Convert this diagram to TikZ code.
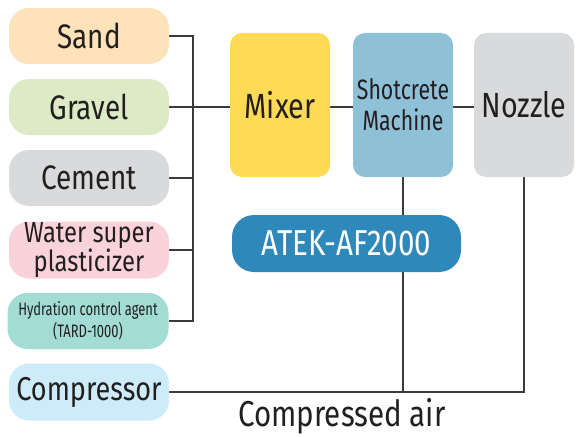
\documentclass[tikz,border=0pt]{standalone}
\usepackage{fontspec}
\setmainfont{Fira Sans}[Scale=1]
\newfontfamily\condf{Fira Sans}[FakeStretch=0.82]
\newfontfamily\narrf{Fira Sans}[FakeStretch=0.76]
\newfontfamily\narrerf{Fira Sans}[FakeStretch=0.72]
\usetikzlibrary{backgrounds}
\definecolor{csand}{HTML}{FDE2BA}
\definecolor{cgravel}{HTML}{DCEBC6}
\definecolor{ccement}{HTML}{D9DADC}
\definecolor{cwater}{HTML}{FAD3DA}
\definecolor{chyd}{HTML}{A2DCD4}
\definecolor{ccomp}{HTML}{CDEBF9}
\definecolor{cmixer}{HTML}{FFDA55}
\definecolor{cshot}{HTML}{8EC0D7}
\definecolor{catek}{HTML}{2E88BA}
\definecolor{cline}{HTML}{3A3A3A}
\definecolor{ctext}{HTML}{231F20}
\tikzset{
  srcbox/.style={rounded corners=20pt, minimum width=160pt, minimum height=56pt, inner sep=0pt, text=ctext, align=center, font=\condf\fontsize{34}{36}\selectfont},
  procbox/.style={rounded corners=12pt, minimum width=100pt, minimum height=144pt, inner sep=0pt, text=ctext, align=center, font=\condf\fontsize{35}{36}\selectfont},
  link/.style={draw=cline, line width=1.3pt}
}
\begin{document}
\begin{tikzpicture}[x=1pt,y=-1pt]
\useasboundingbox (0,0) rectangle (577,436);
\node[srcbox, fill=csand] (sand) at (89,36) {Sand};
\node[srcbox, fill=cgravel] (gravel) at (89,107) {Gravel};
\node[srcbox, fill=ccement] (cement) at (89,178) {Cement};
\node[srcbox, fill=cwater, minimum height=57pt, font=\condf\fontsize{29}{22}\selectfont] (water) at (89,250) {Water super\\plasticizer};
\node[srcbox, fill=chyd, minimum width=161pt, font=\narrerf\fontsize{18}{22}\selectfont] (hyd) at (88,321) {Hydration control agent\\(TARD-1000)};
\node[srcbox, fill=ccomp, minimum height=57pt, font=\condf\fontsize{33}{36}\selectfont] (comp) at (89,392) {Compressor};
\node[procbox, fill=cmixer] (mixer) at (280,105) {Mixer};
\node[procbox, fill=cshot, font=\narrf\fontsize{28}{31}\selectfont] (shot) at (403,105) {Shotcrete\\Machine};
\node[procbox, fill=ccement] (nozzle) at (524,105) {Nozzle};
\node[rounded corners=22pt, minimum width=229pt, minimum height=57pt, inner sep=0pt, fill=catek, text=white, font=\condf\fontsize{36}{36}\selectfont] (atek) at (346.5,243.5) {ATEK-AF2000};
\node[text=ctext, font=\condf\fontsize{36}{36}\selectfont] (air) at (342,416) {Compressed air};
\coordinate (bus) at (193,0);
\begin{scope}[on background layer]
\draw[link] (sand.east) -- (sand.east -| bus) -- (hyd.east -| bus) -- (hyd.east);
\draw[link] (cement.east) -- (cement.east -| bus);
\draw[link] (water.east) -- (water.east -| bus);
\draw[link] (gravel.east) -- (gravel.east -| mixer.west);
\draw[link] (mixer.east |- gravel.east) -- (shot.west |- gravel.east);
\draw[link] (shot.east |- gravel.east) -- (nozzle.west |- gravel.east);
\draw[link] (shot.south) -- (shot.south |- comp.east);
\draw[link] (nozzle.south) -- (nozzle.south |- comp.east) -- (comp.east);
\end{scope}
\end{tikzpicture}
\end{document}
